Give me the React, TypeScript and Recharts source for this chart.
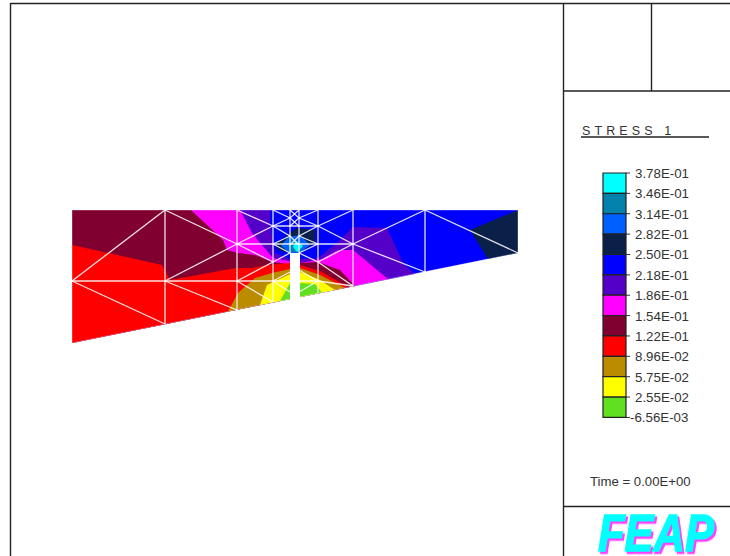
import React from "react";
import { ScatterChart, Scatter, XAxis, YAxis } from "recharts";

type P = [number, number];

const domainOutline: P[] = [[72, 210], [518, 210], [518, 253], [72, 343]];

const contourBands: { color: string; outline: P[] }[] = [
  { color: "#0000FF", outline: domainOutline },
  { color: "#0A2048", outline: [[518, 210], [470, 230], [488, 259], [518, 253]] },
  { color: "#5500C8", outline: [[72, 210], [270, 210], [270, 223], [273, 242], [275, 253], [290, 259], [300, 259], [318, 258], [338, 242], [353, 227], [387, 228], [403, 263], [415, 274], [72, 343]] },
  { color: "#FF00FF", outline: [[72, 210], [240, 210], [252, 233], [273, 258], [288, 261], [300, 263], [322, 259], [338, 250], [353, 250], [388, 279], [72, 343]] },
  { color: "#800030", outline: [[72, 210], [191, 210], [223, 240], [227, 250], [238, 253], [255, 255], [273, 262], [288, 264], [300, 263], [318, 262], [340, 270], [355, 286], [72, 343]] },
  { color: "#FF0000", outline: [[72, 245], [162, 265], [170, 280], [236, 268], [252, 268], [267, 265], [290, 263], [300, 265], [320, 271], [348, 287], [72, 343]] },
  { color: "#BB8C00", outline: [[228, 311.6], [238, 293], [247, 285], [255, 278], [272, 273], [290, 269], [300, 268], [320, 275], [345, 288]] },
  { color: "#FFFF00", outline: [[260, 305], [267, 285], [290, 274], [300, 272], [320, 280], [335, 290]] },
  { color: "#60E020", outline: [[280, 301], [290, 283], [300, 283], [315, 284], [322, 292.5]] },
  { color: "#0A2048", outline: [[297, 228], [315, 230], [315, 243], [303, 250], [300, 253], [290, 253], [278, 250], [275, 245], [290, 233]] },
  { color: "#0060FF", outline: [[288, 237], [300, 235], [310, 245], [300, 253], [290, 253], [281, 246]] },
  { color: "#0082AD", outline: [[292, 239], [304, 244], [300, 252], [290, 252], [288, 245]] },
  { color: "#00FFFF", outline: [[296, 241], [303, 246], [297, 252], [293, 247]] },
  { color: "#FFFFFF", outline: [[290, 253], [300, 253], [300, 301], [290, 301]] },
];

const meshLines: P[][] = [
  [[165, 210], [165, 324]], [[237, 210], [237, 310]], [[273, 210], [273, 302]], [[290, 210], [290, 253]],
  [[299, 210], [299, 253]], [[318, 210], [318, 293]], [[353, 210], [353, 286]], [[425, 210], [425, 272]],
  [[72, 281], [318, 281]], [[237, 244], [353, 244]], [[273, 226], [318, 226]],
  [[72, 281], [165, 210]], [[72, 281], [165, 324]], [[165, 210], [237, 244]], [[165, 281], [237, 244]], [[165, 281], [237, 310]],
  [[237, 210], [273, 226]], [[237, 244], [273, 226]], [[237, 244], [273, 262]], [[237, 281], [273, 262]], [[237, 281], [273, 302]],
  [[273, 210], [290, 218], [299, 226]], [[273, 226], [290, 218], [299, 210]], [[318, 210], [299, 218], [290, 226]], [[318, 226], [299, 218], [290, 210]],
  [[273, 226], [290, 236], [299, 245]], [[318, 226], [299, 236], [290, 245]], [[273, 244], [290, 236]], [[318, 244], [299, 236]],
  [[273, 244], [290, 253]], [[318, 244], [299, 253]], [[273, 262], [290, 253]], [[318, 262], [299, 253]],
  [[318, 262], [353, 244]], [[318, 262], [353, 286]], [[318, 281], [353, 286]], [[299, 270], [318, 281]], [[299, 292], [318, 281]],
  [[273, 281], [290, 272]], [[273, 281], [290, 292]],
  [[318, 226], [353, 210]], [[318, 226], [353, 244]], [[353, 244], [425, 210]], [[353, 244], [425, 272]], [[425, 210], [518, 253]],
];

const frameLines: P[][] = [
  [[10.5, 3], [10.5, 556]], [[10.5, 3.5], [730, 3.5]], [[563.5, 3], [563.5, 556]], [[651.5, 3], [651.5, 91]],
  [[563, 91], [730, 91]], [[563, 506.5], [730, 506.5]], [[581, 137], [709, 137]],
];

const legendColors = ["#00FFFF", "#0082AD", "#0060FF", "#0A2048", "#0000FF", "#5500C8", "#FF00FF", "#800030", "#FF0000", "#BB8C00", "#FFFF00", "#60E020"];
const legendLabels = ["3.78E-01", "3.46E-01", "3.14E-01", "2.82E-01", "2.50E-01", "2.18E-01", "1.86E-01", "1.54E-01", "1.22E-01", "8.96E-02", "5.75E-02", "2.55E-02", "-6.56E-03"];
const legendTop = 173;
const legendStep = 20.37;
const legendLeft = 603;
const legendRight = 626;

const toData = (pts: P[]) => pts.map(([x, y]) => ({ x, y }));
const noDot = () => <g />;
const FONT = "'Liberation Sans', Arial, sans-serif";

const polygonLine = (fill: string, stroke = "none", strokeWidth = 0) => (props: any) => (
  <polygon
    points={(props.points || []).map((p: any) => `${p.x},${p.y}`).join(" ")}
    fill={fill}
    stroke={stroke}
    strokeWidth={strokeWidth}
  />
);

const poly = (key: string, pts: P[], fill: string, stroke = "none", strokeWidth = 0) => (
  <Scatter key={key} data={toData(pts)} line={polygonLine(fill, stroke, strokeWidth)} shape={noDot} isAnimationActive={false} />
);

const path = (key: string, pts: P[], stroke: string, strokeWidth: number) => (
  <Scatter key={key} data={toData(pts)} line={{ stroke, strokeWidth }} shape={noDot} isAnimationActive={false} />
);

const label = (key: string, x: number, y: number, text: string, style: React.CSSProperties = {}) => (
  <Scatter
    key={key}
    data={[{ x, y }]}
    isAnimationActive={false}
    shape={(p: any) => (
      <text x={p.cx} y={p.cy} fontFamily={FONT} fontSize={13.3} fill="#333" style={style}>
        {text}
      </text>
    )}
  />
);

const feap = (key: string, x: number, y: number, fill: string, shadow: string) => (
  <Scatter
    key={key}
    data={[{ x, y }]}
    isAnimationActive={false}
    shape={(p: any) => (
      <text
        transform={`translate(${p.cx},${p.cy}) scale(1,1.16)`}
        fontFamily={FONT}
        fontSize={44}
        fontWeight="bold"
        fontStyle="italic"
        fill={fill}
        stroke={fill}
        strokeWidth={1.2}
        textLength={116}
        lengthAdjust="spacingAndGlyphs"
        style={{ filter: `drop-shadow(2px 2px 0 ${shadow})` }}
      >
        FEAP
      </text>
    )}
  />
);

export default function App() {
  return (
    <div style={{ position: "absolute", left: 0, top: 0, width: 730, height: 556, background: "#fff", overflow: "hidden" }}>
      <ScatterChart width={730} height={556} margin={{ top: 0, right: 0, bottom: 0, left: 0 }}>
        <XAxis type="number" dataKey="x" domain={[0, 730]} hide allowDataOverflow />
        <YAxis type="number" dataKey="y" domain={[0, 556]} reversed hide allowDataOverflow />
        {contourBands.map((b, i) => poly(`band${i}`, b.outline, b.color))}
        {path("outline", [...domainOutline, domainOutline[0]], "rgba(255,255,255,0.35)", 1)}
        {meshLines.map((m, i) => path(`mesh${i}`, m, "rgba(255,255,255,0.88)", 1.3))}
        {frameLines.map((m, i) => path(`frame${i}`, m, "#222", 1.4))}
        {legendColors.map((c, i) =>
          poly(
            `swatch${i}`,
            [
              [legendLeft, legendTop + i * legendStep],
              [legendRight, legendTop + i * legendStep],
              [legendRight, legendTop + (i + 1) * legendStep],
              [legendLeft, legendTop + (i + 1) * legendStep],
            ],
            c,
            "#222",
            1.2
          )
        )}
        {legendLabels.map((_, i) =>
          path(`tick${i}`, [[legendRight, legendTop + i * legendStep], [630, legendTop + i * legendStep]], "#333", 1)
        )}
        {legendLabels.map((t, i) =>
          label(`lab${i}`, t.startsWith("-") ? 630 : 635, legendTop + i * legendStep + 5, t)
        )}
        {label("title", 582, 135, "STRESS 1", { letterSpacing: "4.1px", fontSize: 12.5 })}
        {label("time", 590, 486, "Time = 0.00E+00", { fontSize: 13.2 })}
        {feap("feapFront", 598, 551, "#00FFFF", "#FF40FF")}
      </ScatterChart>
    </div>
  );
}
